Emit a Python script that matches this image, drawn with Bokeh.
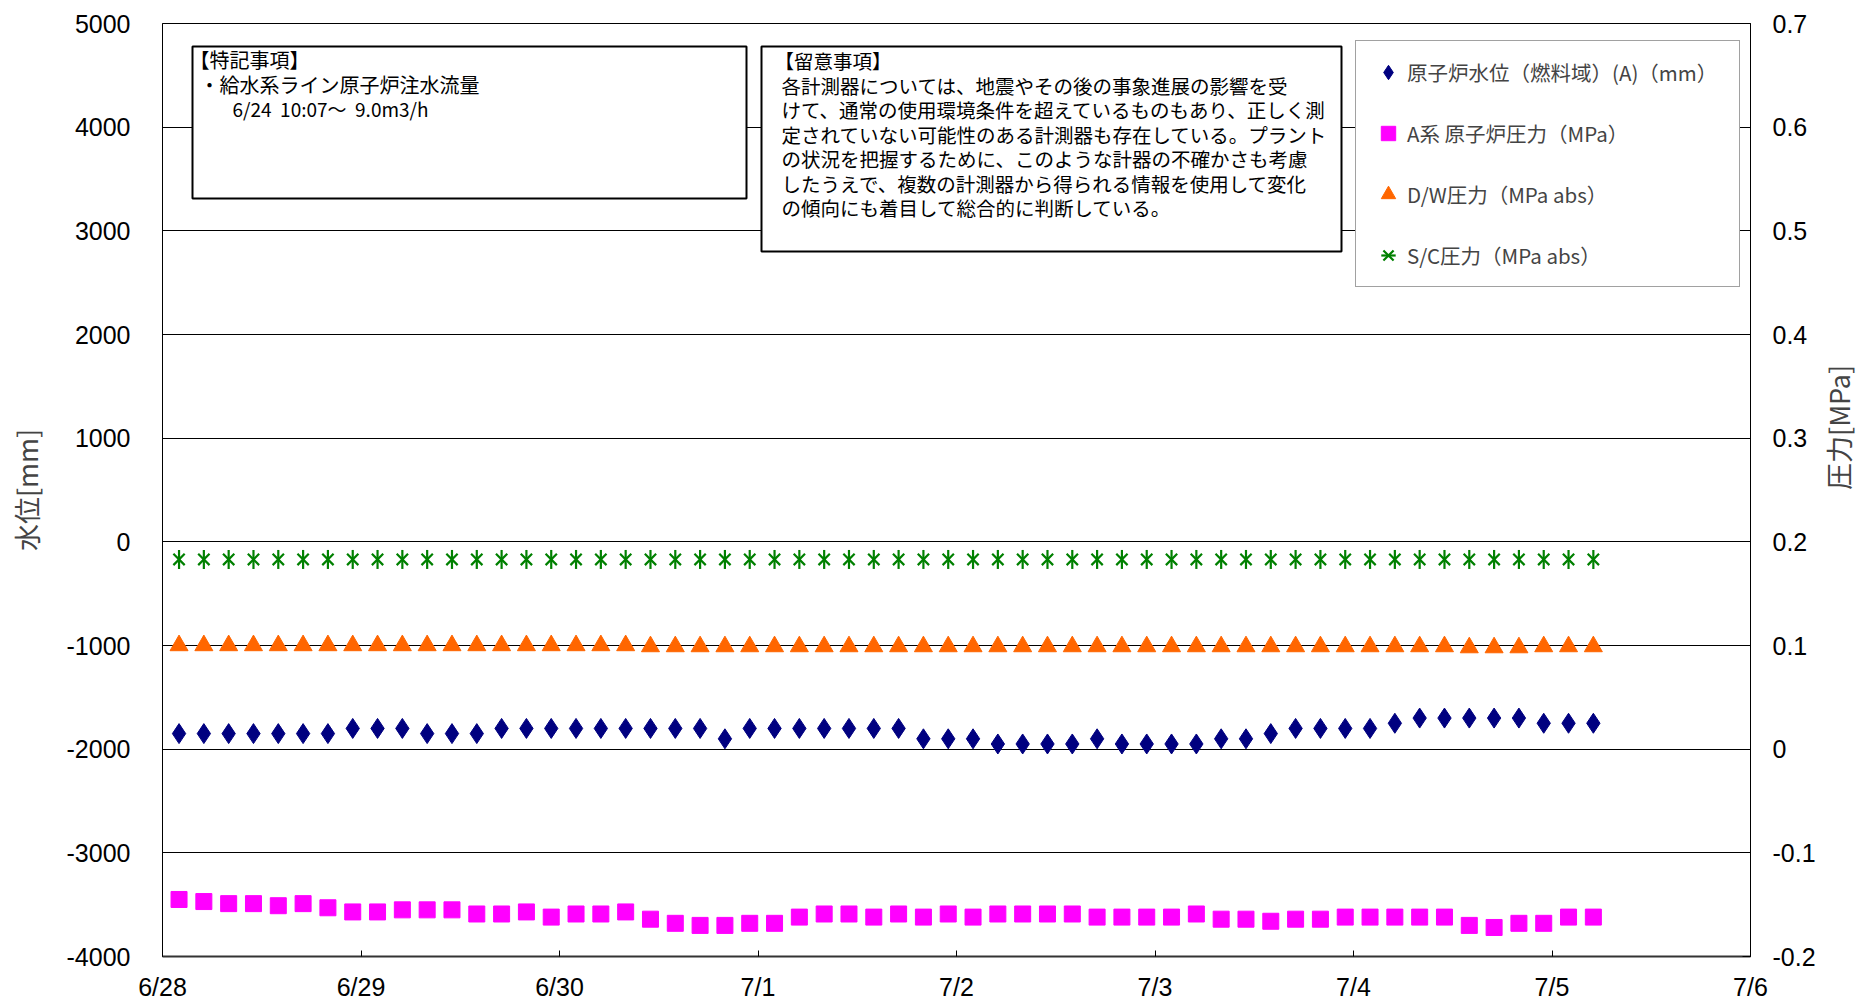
import math
import pandas as pd
from bokeh.plotting import figure
from bokeh.models import (Range1d, LinearAxis, FixedTicker, BoxAnnotation, Label,
                          Legend, LegendItem, ColumnDataSource)
from bokeh.embed import file_html
from bokeh.resources import INLINE

# ---------------- data ----------------
start = pd.Timestamp("2011-06-28 00:00")
times = pd.date_range("2011-06-28 02:00", periods=58, freq="3h")

level_mm = [-1850, -1850, -1850, -1850, -1850, -1850, -1850, -1800, -1800, -1800,
            -1850, -1850, -1850, -1800, -1800, -1800, -1800, -1800, -1800, -1800,
            -1800, -1800, -1900, -1800, -1800, -1800, -1800, -1800, -1800, -1800,
            -1900, -1900, -1900, -1950, -1950, -1950, -1950, -1900, -1950, -1950,
            -1950, -1950, -1900, -1900, -1850, -1800, -1800, -1800, -1800, -1750,
            -1700, -1700, -1700, -1700, -1700, -1750, -1750, -1750]

rpv_a_mpa = [-0.145, -0.147, -0.149, -0.149, -0.151, -0.149, -0.153, -0.157, -0.157, -0.155,
             -0.155, -0.155, -0.159, -0.159, -0.157, -0.162, -0.159, -0.159, -0.157, -0.164,
             -0.168, -0.170, -0.170, -0.168, -0.168, -0.162, -0.159, -0.159, -0.162, -0.159,
             -0.162, -0.159, -0.162, -0.159, -0.159, -0.159, -0.159, -0.162, -0.162, -0.162,
             -0.162, -0.159, -0.164, -0.164, -0.166, -0.164, -0.164, -0.162, -0.162, -0.162,
             -0.162, -0.162, -0.170, -0.172, -0.168, -0.168, -0.162, -0.162]

dw_mpa_abs = [0.100, 0.100, 0.100, 0.100, 0.100, 0.100, 0.100, 0.100, 0.100, 0.100,
              0.100, 0.100, 0.100, 0.100, 0.100, 0.100, 0.100, 0.100, 0.100, 0.099,
              0.099, 0.099, 0.099, 0.099, 0.099, 0.099, 0.099, 0.099, 0.099, 0.099,
              0.099, 0.099, 0.099, 0.099, 0.099, 0.099, 0.099, 0.099, 0.099, 0.099,
              0.099, 0.099, 0.099, 0.099, 0.099, 0.099, 0.099, 0.099, 0.099, 0.099,
              0.099, 0.099, 0.098, 0.098, 0.098, 0.099, 0.099, 0.099]

sc_mpa_abs = [0.183, 0.183, 0.183, 0.183, 0.183, 0.183, 0.183, 0.183, 0.183, 0.183,
              0.183, 0.183, 0.183, 0.183, 0.183, 0.183, 0.183, 0.183, 0.183, 0.183,
              0.183, 0.183, 0.183, 0.183, 0.183, 0.183, 0.183, 0.183, 0.183, 0.183,
              0.183, 0.183, 0.183, 0.183, 0.183, 0.183, 0.183, 0.183, 0.183, 0.183,
              0.183, 0.183, 0.183, 0.183, 0.183, 0.183, 0.183, 0.183, 0.183, 0.183,
              0.183, 0.183, 0.183, 0.183, 0.183, 0.183, 0.183, 0.183]

x_tick_labels = ["6/28", "6/29", "6/30", "7/1", "7/2", "7/3", "7/4", "7/5", "7/6"]
left_ticks = [-4000, -3000, -2000, -1000, 0, 1000, 2000, 3000, 4000, 5000]
right_ticks = [-0.2, -0.1, 0.0, 0.1, 0.2, 0.3, 0.4, 0.5, 0.6, 0.7]
right_tick_labels = ["-0.2", "-0.1", "0", "0.1", "0.2", "0.3", "0.4", "0.5", "0.6", "0.7"]

left_title = "水位[mm]"
right_title = "圧力[MPa]"
series_names = ["原子炉水位（燃料域）(A)（mm）", "A系 原子炉圧力（MPa）",
                "D/W圧力（MPa abs）", "S/C圧力（MPa abs）"]

note1_lines = ["【特記事項】", "・給水系ライン原子炉注水流量"]
note1_sub = "6/24\u00a0\u00a010:07～\u00a0\u00a09.0m3/h"
note2_lines = ["【留意事項】",
               "各計測器については、地震やその後の事象進展の影響を受",
               "けて、通常の使用環境条件を超えているものもあり、正しく測",
               "定されていない可能性のある計測器も存在している。プラント",
               "の状況を把握するために、このような計器の不確かさも考慮",
               "したうえで、複数の計測器から得られる情報を使用して変化",
               "の傾向にも着目して総合的に判断している。"]

# ---------------- figure ----------------
days = [(t - start) / pd.Timedelta(days=1) for t in times]
src = ColumnDataSource(dict(x=days, level=level_mm, rpv=rpv_a_mpa, dw=dw_mpa_abs, sc=sc_mpa_abs))

CJK = "Noto Sans CJK JP"
NUM = "Liberation Sans"

p = figure(frame_width=1588, frame_height=933,
           x_range=Range1d(0, 8), y_range=Range1d(-4000, 5000),
           output_backend="svg", toolbar_location=None,
           min_border_left=162, min_border_right=113,
           min_border_top=23, min_border_bottom=46)
p.extra_y_ranges = {"mpa": Range1d(-0.2, 0.7)}
p.background_fill_color = "white"
p.border_fill_color = "white"
p.outline_line_color = "black"
p.outline_line_width = 1

# x axis
xa = p.xaxis[0]
xa.ticker = FixedTicker(ticks=list(range(len(x_tick_labels))))
xa.major_label_overrides = {i: s for i, s in enumerate(x_tick_labels)}
xa.major_tick_in = 6
xa.major_tick_out = 0
xa.minor_tick_in = 0
xa.minor_tick_out = 0
xa.axis_line_width = 2
xa.axis_line_color = "#333333"
xa.major_label_standoff = 16
xa.major_label_text_font = NUM
xa.major_label_text_font_size = "25px"
xa.major_label_text_color = "black"
p.xgrid.visible = False

# left axis
ya = p.yaxis[0]
ya.ticker = FixedTicker(ticks=left_ticks)
ya.major_label_overrides = {v: str(v) for v in left_ticks}
ya.major_tick_in = 0
ya.major_tick_out = 0
ya.minor_tick_in = 0
ya.minor_tick_out = 0
ya.axis_line_color = "black"
ya.major_label_standoff = 32
ya.major_label_text_font = NUM
ya.major_label_text_font_size = "25px"
ya.major_label_text_color = "black"
ya.axis_label = left_title
ya.axis_label_text_font = CJK
ya.axis_label_text_font_size = "27px"
ya.axis_label_text_font_style = "normal"
ya.axis_label_standoff = 18
p.ygrid.ticker = FixedTicker(ticks=left_ticks)
p.ygrid.grid_line_color = "black"
p.ygrid.grid_line_width = 1

# right axis
ra = LinearAxis(y_range_name="mpa", ticker=FixedTicker(ticks=right_ticks))
ra.major_label_overrides = {v: s for v, s in zip(right_ticks, right_tick_labels)}
ra.major_tick_in = 8
ra.major_tick_out = 0
ra.minor_tick_in = 0
ra.minor_tick_out = 0
ra.axis_line_color = "black"
ra.major_label_standoff = 22
ra.major_label_text_font = NUM
ra.major_label_text_font_size = "25px"
ra.major_label_text_color = "black"
ra.axis_label = right_title
ra.axis_label_text_font = CJK
ra.axis_label_text_font_size = "27px"
ra.axis_label_text_font_style = "normal"
ra.axis_label_standoff = 20
ra.axis_label_orientation = math.pi / 2
p.add_layout(ra, "right")

# series
r_lvl = p.scatter("x", "level", source=src, marker="diamond", size=20, color="#000080")
r_rpv = p.scatter("x", "rpv", source=src, y_range_name="mpa", marker="square", size=16,
                  color="#FF00FF")
r_dw = p.scatter("x", "dw", source=src, y_range_name="mpa", marker="triangle", size=18,
                 color="#FF6600")
r_sc1 = p.scatter("x", "sc", source=src, y_range_name="mpa", marker="x", size=16,
                  line_color="#008000", line_width=2.2)
r_sc2 = p.scatter("x", "sc", source=src, y_range_name="mpa", marker="dash", size=19,
                  angle=math.pi / 2, line_color="#008000", line_width=2.2)

# ---------------- annotations (page pixel positions -> data) ----------------
FL, FT, FW, FH = 162.0, 23.0, 1588.0, 933.0


def dx(px):
    return (px - FL) / FW * 8.0


def dy(py):
    return 5000.0 - (py - FT) / FH * 9000.0


for (l, r, t, b) in [(192, 746, 46, 198), (761, 1341, 46, 251)]:
    p.add_layout(BoxAnnotation(left=dx(l), right=dx(r), top=dy(t), bottom=dy(b),
                               fill_color="white", fill_alpha=1.0,
                               line_color="black", line_width=2, line_alpha=1.0))


def add_text(px, py, txt, size):
    p.add_layout(Label(x=dx(px), y=dy(py), text=txt, text_font=CJK,
                       text_font_size=size, text_baseline="middle", text_align="left",
                       text_color="black"))


add_text(189, 59, note1_lines[0], "20px")
add_text(199, 84, note1_lines[1], "20px")
add_text(232, 108, note1_sub, "19px")
for k, line in enumerate(note2_lines):
    add_text(774 if k == 0 else 781, 60 + 24.5 * k, line, "19.5px")

legend = Legend(items=[LegendItem(label=series_names[0], renderers=[r_lvl]),
                       LegendItem(label=series_names[1], renderers=[r_rpv]),
                       LegendItem(label=series_names[2], renderers=[r_dw]),
                       LegendItem(label=series_names[3], renderers=[r_sc1, r_sc2])],
                location=(1355 - 162, 956 - 287), margin=0, padding=13,
                glyph_width=38, glyph_height=36, label_height=36, label_width=319,
                label_standoff=0, spacing=25,
                label_text_font=CJK, label_text_font_size="20.5px",
                border_line_color="#444444", border_line_width=1.5,
                background_fill_color="white", background_fill_alpha=1.0)
p.add_layout(legend)

open("out.html", "w").write(file_html(p, INLINE))
